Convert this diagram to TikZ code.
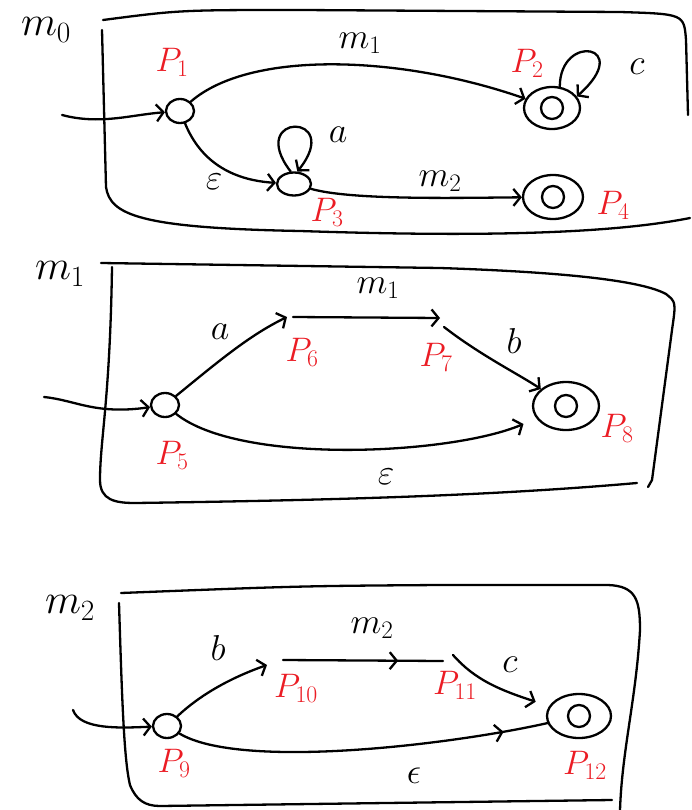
\RequirePackage{fix-cm}
\documentclass[tikz,border=0pt]{standalone}
\usetikzlibrary{arrows.meta,shapes.geometric,decorations.markings}
\definecolor{plabel}{RGB}{235,28,36}

\begin{document}
\begin{tikzpicture}[x=1pt,y=-1pt,line width=2.3pt,line cap=round,line join=round,
  >={Straight Barb[length=7pt,width=17pt]}]
\tikzset{state/.style={ellipse,draw,inner sep=0pt,minimum width=28pt,minimum height=24pt},
  final/.style={ellipse,draw,inner sep=0pt,minimum width=56pt,minimum height=42pt,
    path picture={\draw[line width=2.3pt] (path picture bounding box.center) circle (11pt);}},
  plab/.style={text=plabel,font=\fontsize{34}{34}\selectfont,inner sep=0pt},
  elab/.style={font=\fontsize{36}{36}\selectfont,inner sep=0pt},
  mlab/.style={font=\fontsize{42}{42}\selectfont,inner sep=0pt},
  midtip/.style={postaction={decorate},decoration={markings,mark=at position #1 with {\arrow{>}}}}}
\useasboundingbox (0,0) rectangle (691,810);
% ---------- frames ----------
\draw (103,20) .. controls (180,10) .. (300,10) -- (620,12) .. controls (684,14) .. (686,40) -- (688,115);
\draw (102,30) -- (106,187) .. controls (110,215) and (140,228) .. (300,231)
  .. controls (450,236) and (600,236) .. (690,218);
\draw (101,263) -- (440,268) .. controls (560,272) and (640,280) .. (666,294)
  .. controls (676,302) .. (672,330) -- (652,480) -- (648,487);
\draw (112,267) .. controls (110,400) and (100,440) .. (100,480)
  .. controls (100,500) and (115,503) .. (135,503) .. controls (350,500) and (500,495) .. (637,483);
\draw (121,593) .. controls (300,586) .. (440,585) -- (608,585)
  .. controls (636,586) and (640,600) .. (640,630) .. controls (636,700) and (622,750) .. (620,810);
\draw (119,603) .. controls (122,700) and (124,760) .. (130,785)
  .. controls (136,800) and (145,806) .. (160,806) -- (612,800);
\node[mlab] (m0name) at (46,30) {$m_0$};
\node[mlab] (m1name) at (60,274) {$m_1$};
\node[mlab] (m2name) at (70,608) {$m_2$};
% ---------- m0 ----------
\node[state] (p1) at (180,111) {};
\node[final] (p2) at (552,108) {};
\node[state,minimum width=34pt,minimum height=23pt] (p3) at (294,184) {};
\node[final,minimum width=60pt,minimum height=44pt] (p4) at (553,197) {};
\coordinate (s0) at (62,115);
\draw[->] (s0) .. controls (100,125) and (130,115) .. (p1);
\draw[->] (p1) .. controls (250,50) and (400,55) .. (p2);
\draw[->] (p1) .. controls (200,160) and (230,180) .. (p3);
\draw[->] (p3.105) .. controls (245,112) and (345,112) .. (p3.75);
\draw[->] (p3) .. controls (350,200) and (450,198) .. (p4);
\draw[->] (p2.70) .. controls (560,32) and (635,45) .. (p2.25);
\node[plab] (l1) at (172,62) {$P_1$};
\node[plab] (l2) at (527,63) {$P_2$};
\node[plab] (l3) at (327,212) {$P_3$};
\node[plab] (l4) at (613,205) {$P_4$};
\node[elab] (e1) at (360,43) {$m_1$};
\node[elab] (e2) at (214,182) {$\varepsilon$};
\node[elab] (e3) at (338,135) {$a$};
\node[elab] (e4) at (440,181) {$m_2$};
\node[elab] (e5) at (637,67) {$c$};
% ---------- m1 ----------
\node[state] (p5) at (165,405) {};
\coordinate (p6) at (287,317);
\coordinate (p7) at (440,318);
\node[final,minimum width=66pt,minimum height=48pt] (p8) at (566,406) {};
\coordinate (s1) at (44,397);
\draw[->] (s1) .. controls (75,400) and (95,415) .. (p5);
\draw[->] (p5) .. controls (220,360) and (250,335) .. (p6);
\draw[->] ([xshift=6pt]p6) -- (p7);
\draw[->] ([xshift=4pt,yshift=-9pt]p7) .. controls (480,355) and (520,375) .. (p8);
\draw[->,shorten >=14pt] (p5) .. controls (240,465) and (450,455) .. (p8);
\node[plab] (l5) at (172,455) {$P_5$};
\node[plab] (l6) at (302,352) {$P_6$};
\node[plab] (l7) at (436,357) {$P_7$};
\node[plab] (l8) at (617,428) {$P_8$};
\node[elab] (e6) at (220,332) {$a$};
\node[elab] (e7) at (378,288) {$m_1$};
\node[elab] (e8) at (514,341) {$b$};
\node[elab] (e9) at (386,477) {$\varepsilon$};
% ---------- m2 ----------
\node[state] (p9) at (167,726) {};
\coordinate (p10) at (267,665);
\coordinate (p11) at (443,661);
\node[final,minimum width=64pt,minimum height=44pt] (p12) at (579,716) {};
\coordinate (s2) at (73,710);
\draw[->] (s2) .. controls (80,730) and (120,728) .. (p9);
\draw[->] (p9) .. controls (200,695) and (230,678) .. (p10);
\draw[midtip=.72] ([xshift=16pt,yshift=5pt]p10) -- (p11);
\draw[->,shorten >=14pt] ([xshift=10pt,yshift=6pt]p11) .. controls (475,680) and (500,690) .. (p12);
\draw[midtip=.88] (p9) .. controls (240,770) and (450,745) .. (p12);
\node[plab] (l9) at (174,763) {$P_9$};
\node[plab] (l10) at (296,688) {$P_{10}$};
\node[plab] (l11) at (455,685) {$P_{11}$};
\node[plab] (l12) at (585,765) {$P_{12}$};
\node[elab] (e10) at (218,648) {$b$};
\node[elab] (e11) at (372,628) {$m_2$};
\node[elab] (e12) at (510,665) {$c$};
\node[elab] (e13) at (414,776) {$\epsilon$};
\end{tikzpicture}
\end{document}
